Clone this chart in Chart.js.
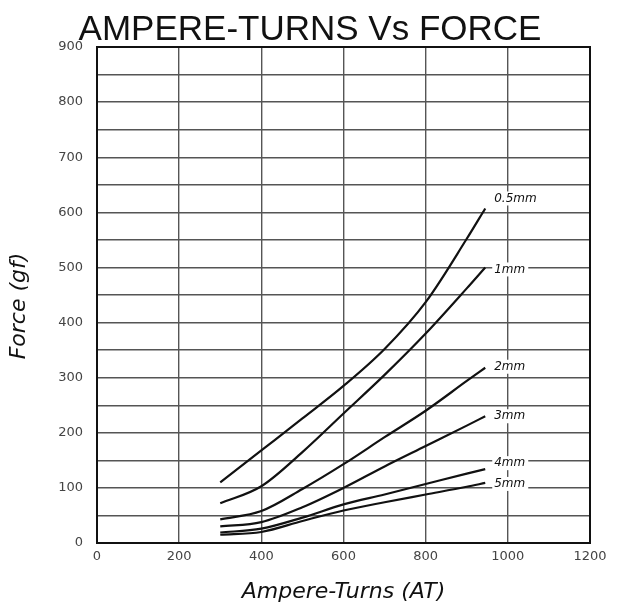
<!DOCTYPE html>
<html><head><meta charset="utf-8">
<script src="https://cdn.jsdelivr.net/npm/chart.js@4"></script>
<style>html,body{margin:0;padding:0;background:#fff}canvas{display:block}</style>
</head><body>
<canvas id="c" width="620" height="607"></canvas>
<script>
// ---- data ----
const ampereTurns = [300, 400, 500, 600, 700, 800, 900, 945];
const force05mm = [110, 168, 226, 285, 352, 437, 552, 607];
const force1mm  = [72, 103, 165, 235, 305, 380, 462, 500];
const force2mm  = [43, 58, 98, 143, 192, 240, 294, 318];
const force3mm  = [30, 38, 65, 100, 139, 176, 213, 230];
const force4mm  = [19, 26, 46, 70, 88, 107, 126, 134];
const force5mm  = [15, 20, 40, 59, 74, 88, 102, 109];
const seriesNames = ['0.5mm', '1mm', '2mm', '3mm', '4mm', '5mm'];
const xTickValues = [0, 200, 400, 600, 800, 1000, 1200];
const yTickValues = [0, 100, 200, 300, 400, 500, 600, 700, 800, 900];
const chartTitle = 'AMPERE-TURNS Vs FORCE';
const xTitle = 'Ampere-Turns (AT)';
const yTitle = 'Force (gf)';

const seriesValues = [force05mm, force1mm, force2mm, force3mm, force4mm, force5mm];
const labelShift = [-10, 2, -1, 0, -6, 1];

const datasets = seriesValues.map((vals, i) => ({
  label: seriesNames[i],
  data: vals.map((v, j) => ({x: ampereTurns[j], y: v})),
  borderColor: '#111',
  borderWidth: 2.2,
  pointRadius: 0,
  fill: false,
  cubicInterpolationMode: 'monotone',
  labelShift: labelShift[i]
}));

const decor = {
  id: 'decor',
  beforeDatasetsDraw(chart) {
    const {ctx, chartArea: a} = chart;
    ctx.save();
    ctx.strokeStyle = '#111';
    ctx.lineWidth = 2;
    ctx.strokeRect(a.left, a.top, a.right - a.left, a.bottom - a.top);
    ctx.restore();
  },
  afterDatasetsDraw(chart) {
    const {ctx} = chart;
    ctx.save();
    ctx.font = 'italic 12px "DejaVu Sans"';
    ctx.textBaseline = 'middle';
    ctx.textAlign = 'left';
    chart.data.datasets.forEach((ds, i) => {
      const meta = chart.getDatasetMeta(i);
      const p = meta.data[meta.data.length - 1];
      const tx = p.x + 9, ty = p.y + ds.labelShift;
      const w = ctx.measureText(ds.label).width;
      ctx.fillStyle = '#fff';
      ctx.fillRect(tx - 2, ty - 7, w + 5, 14);
      ctx.fillStyle = '#111';
      ctx.fillText(ds.label, tx, ty);
    });
    ctx.restore();
  },
  afterDraw(chart) {
    const {ctx, chartArea: a} = chart;
    ctx.save();
    ctx.fillStyle = '#111';
    ctx.textAlign = 'center';
    ctx.textBaseline = 'alphabetic';
    ctx.font = '35px "Liberation Sans"';
    ctx.fillText(chartTitle, 310, 40);
    ctx.font = 'italic 22px "DejaVu Sans"';
    ctx.textBaseline = 'middle';
    ctx.fillText(xTitle, (a.left + a.right) / 2, 592);
    ctx.translate(19, 306);
    ctx.rotate(-Math.PI / 2);
    ctx.fillText(yTitle, 0, 0);
    ctx.restore();
  }
};

new Chart(document.getElementById('c'), {
  type: 'line',
  data: {datasets},
  plugins: [decor],
  options: {
    responsive: false,
    animation: false,
    devicePixelRatio: 1,
    layout: {padding: {top: 47, right: 30, left: 0, bottom: 0}},
    plugins: {legend: {display: false}, tooltip: {enabled: false}, title: {display: false}},
    scales: {
      x: {
        type: 'linear', min: xTickValues[0], max: xTickValues[xTickValues.length - 1],
        afterBuildTicks(s) { s.ticks = xTickValues.map(v => ({value: v})); },
        afterFit(s) { s.height = 64; },
        ticks: {color: '#444', font: {family: 'DejaVu Sans', size: 13}, padding: 6, maxRotation: 0, autoSkip: false,
          callback: v => String(v)},
        grid: {color: '#555', lineWidth: 1.4, drawTicks: false},
        border: {display: false}
      },
      y: {
        type: 'linear', min: yTickValues[0], max: yTickValues[yTickValues.length - 1],
        ticks: {stepSize: 50, color: '#444', font: {family: 'DejaVu Sans', size: 13}, padding: 14, autoSkip: false,
          callback: v => yTickValues.includes(v) ? String(v) : ''},
        afterFit(s) { s.width = 97; },
        grid: {color: '#555', lineWidth: 1.4, drawTicks: false},
        border: {display: false}
      }
    }
  }
});
</script>
</body></html>
